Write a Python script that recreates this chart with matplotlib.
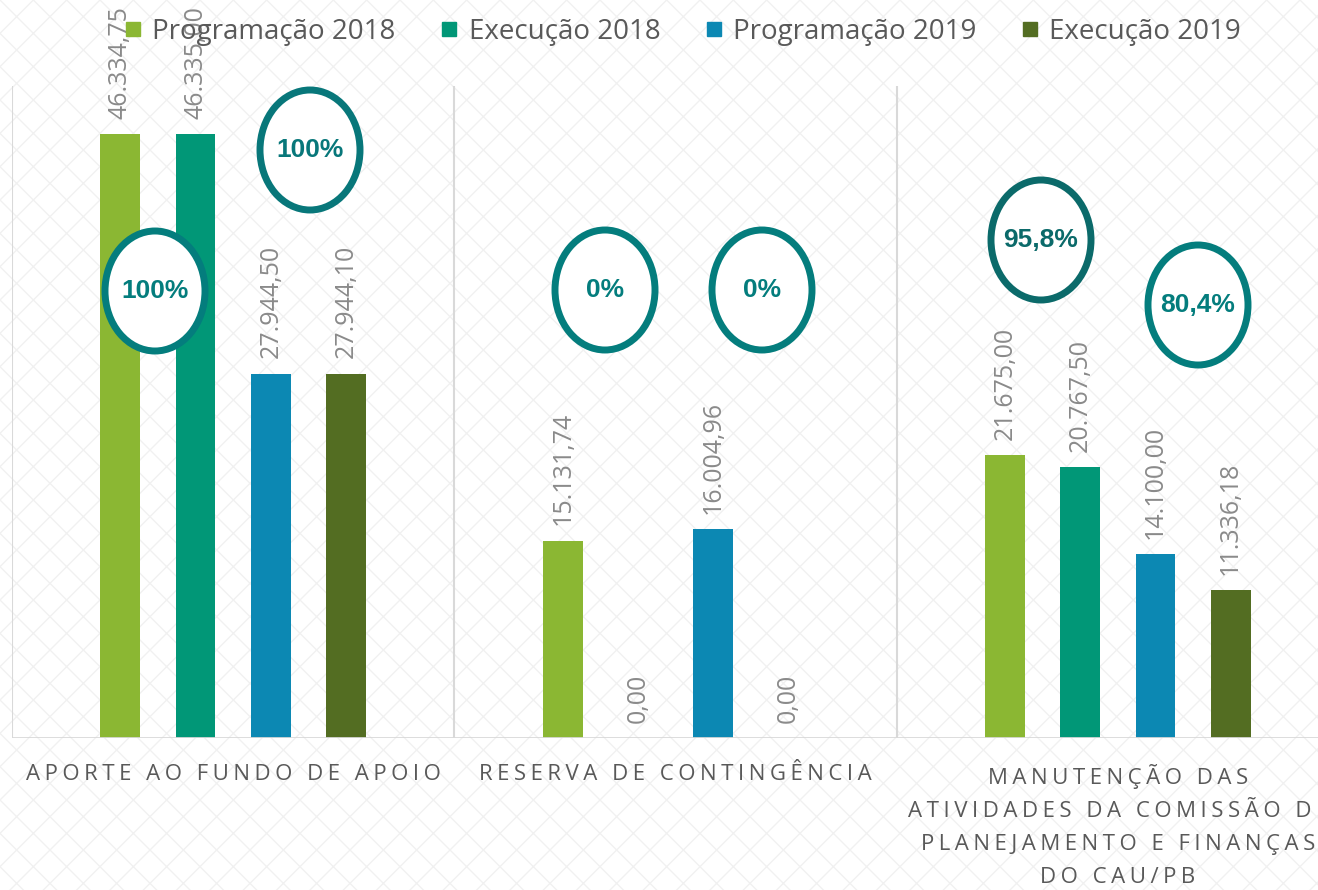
import matplotlib
matplotlib.use('Agg')
import matplotlib.pyplot as plt
from matplotlib.patches import Ellipse, Rectangle
from matplotlib.lines import Line2D
import numpy as np

plt.rcParams['font.family'] = ['Open Sans', 'DejaVu Sans']

# data
categorias = ['APORTE AO FUNDO DE APOIO',
              'RESERVA DE CONTINGÊNCIA',
              'MANUTENÇÃO DAS\nATIVIDADES DA COMISSÃO DE\nPLANEJAMENTO E FINANÇAS\nDO CAU/PB']
series = ['Programação 2018', 'Execução 2018', 'Programação 2019', 'Execução 2019']
prog_2018 = [46334.75, 15131.74, 21675.00]
exec_2018 = [46335.00, 0.00, 20767.50]
prog_2019 = [27944.50, 16004.96, 14100.00]
exec_2019 = [27944.10, 0.00, 11336.18]
cores = ['#8BB733', '#019777', '#0C88B3', '#536D22']

# percentual de execucao (circulos)
pct_textos = ['100%', '100%', '0%', '0%', '95,8%', '80,4%']
pct_cores = ['#047D7D', '#08777A', '#047D7D', '#047D7D', '#0B6A6A', '#047D7D']
# centros em pixels da figura (x, y a partir do topo)
pct_pos = [(155, 291), (310, 150), (605, 290), (762, 290), (1041, 240), (1198, 305)]

W, H = 1318, 890
fig = plt.figure(figsize=(W / 100, H / 100), dpi=100)

# fundo com textura clara
fig.patch.set_facecolor('white')
fundo = Rectangle((0, 0), 1, 1, transform=fig.transFigure, facecolor='white',
                  edgecolor='#f1f1f1', hatch='x', linewidth=0, zorder=-10)
fig.add_artist(fundo)

ax = fig.add_axes([12 / W, 1 - 738 / H, 1327 / W, (738 - 86) / H])
ax.patch.set_alpha(0)

x = np.arange(len(categorias))
offs = [-0.255, -0.085, 0.085, 0.255]
dados = [prog_2018, exec_2018, prog_2019, exec_2019]

for i, vals in enumerate(dados):
    bars = ax.bar(x + offs[i], vals, width=0.09, color=cores[i], zorder=3)
    for b, v in zip(bars, vals):
        txt = f'{v:,.2f}'.replace(',', '#').replace('.', ',').replace('#', '.')
        ax.annotate(txt, (b.get_x() + b.get_width() / 2, v), xytext=(0, 11),
                    textcoords='offset points', rotation=90, ha='center',
                    va='bottom', fontsize=18, color='#8a8a8a', zorder=2)

ax.set_xlim(-0.5, 2.5)
ax.set_ylim(0, 50000)
for s in ax.spines.values():
    s.set_visible(False)
ax.set_xticks([])
ax.set_yticks([])
ax.vlines([-0.5, 0.5, 1.5, 2.5], 0, 50000, color='#d9d9d9', lw=1.5, zorder=1)
ax.axhline(0, color='#d9d9d9', lw=2, zorder=4)


def espacar(t):
    linhas = []
    for ln in t.split('\n'):
        linhas.append('\u200a\u200a'.join(ln))
    return '\n'.join(linhas)


for xi, cat in zip(x, categorias):
    ax.text(xi, -0.04, espacar(cat), transform=ax.get_xaxis_transform(),
            ha='center', va='top', fontsize=16, color='#595959',
            linespacing=1.75, multialignment='center')

# circulos de percentual
for t, c, (px, py) in zip(pct_textos, pct_cores, pct_pos):
    e = Ellipse((px / W, 1 - py / H), 100 / W, 120 / H, transform=fig.transFigure,
                facecolor='white', edgecolor=c, linewidth=5, zorder=20)
    fig.add_artist(e)
    fig.text(px / W, 1 - py / H, t, ha='center', va='center', fontsize=19,
             fontweight='bold', color=c, family=['Liberation Sans', 'DejaVu Sans'],
             zorder=21)

handles = [Line2D([], [], marker='s', linestyle='none', markersize=10,
                  markerfacecolor=c, markeredgecolor=c) for c in cores]
fig.legend(handles, series, loc='center', bbox_to_anchor=(0.516, 1 - 32 / H),
           ncol=4, frameon=False, fontsize=20, labelcolor='#595959',
           handletextpad=0.2, columnspacing=1.42, handlelength=1.0)

fig.savefig('out.png', dpi=100)
